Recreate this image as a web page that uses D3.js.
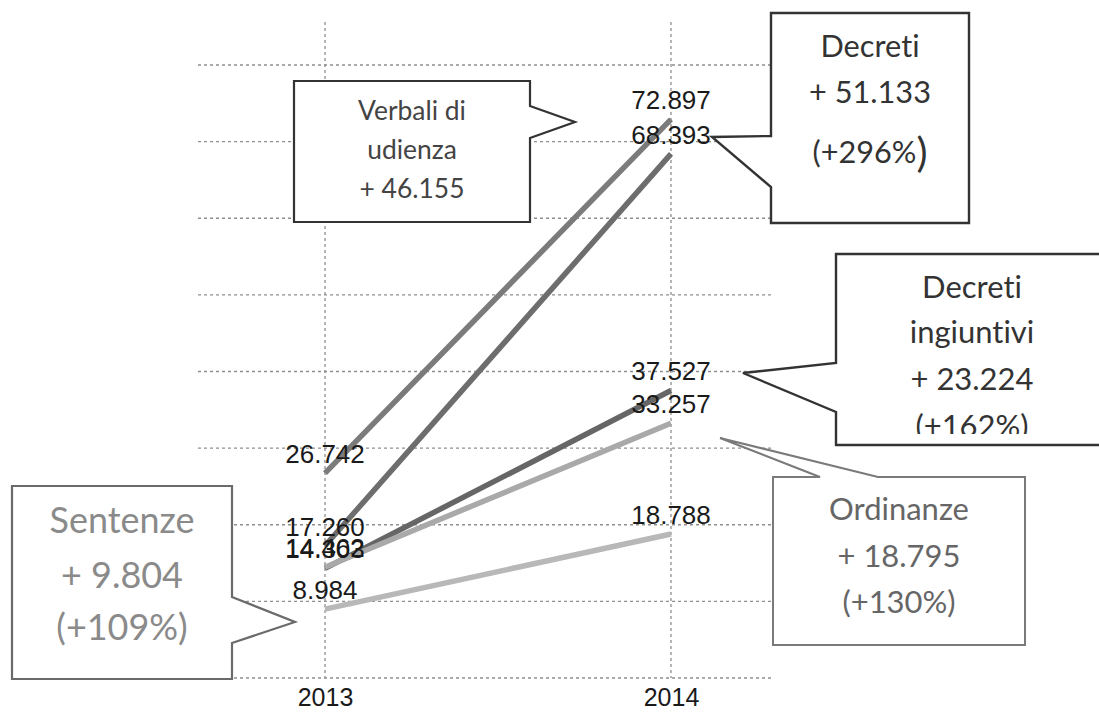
<!DOCTYPE html>
<html>
<head>
<meta charset="utf-8">
<script src="https://cdn.jsdelivr.net/npm/d3@7"></script>
<style>
  html, body { margin: 0; padding: 0; background: #fff; }
  svg { display: block; }
  text { font-variant-ligatures: none; font-feature-settings: "liga" 0, "clig" 0; }
</style>
</head>
<body>
<svg id="chart" width="1099" height="713"></svg>
<script>
// ---------------- DATA ----------------
const years = ["2013", "2014"];
const seriesNames = ["Verbali di udienza", "Decreti", "Decreti ingiuntivi", "Ordinanze", "Sentenze"];
const values2013 = [26742, 17260, 14303, 14462, 8984];
const values2014 = [72897, 68393, 37527, 33257, 18788];
const seriesColors = ["#7b7b7b", "#6d6d6d", "#666666", "#a9a9a9", "#b8b8b8"];
const yTicks = [0, 10000, 20000, 30000, 40000, 50000, 60000, 70000, 80000];

const calloutVerbali = ["Verbali di", "udienza", "+ 46.155"];
const calloutDecreti = ["Decreti", "+ 51.133", "(+296%"];
const calloutIngiuntivi = ["Decreti", "ingiuntivi", "+ 23.224", "(+162%)"];
const calloutOrdinanze = ["Ordinanze", "+ 18.795", "(+130%)"];
const calloutSentenze = ["Sentenze", "+ 9.804", "(+109%)"];

// ---------------- SETUP ----------------
const svg = d3.select("#chart");
svg.append("rect").attr("width", 1099).attr("height", 713).attr("fill", "#fff");

const it = d3.formatLocale({decimal: ",", thousands: ".", grouping: [3], currency: ["€", ""]});
const fmt = it.format(",d");

const x = d3.scalePoint().domain(years).range([325, 671]);
const y = d3.scaleLinear().domain([0, 80000]).range([678, 65]);
const gridLeft = 198, gridRight = 772, vTop = 22;

// horizontal gridlines (dotted)
const gGrid = svg.append("g");
gGrid.selectAll("line.h").data(yTicks).join("line")
  .attr("class", "h")
  .attr("x1", gridLeft).attr("x2", gridRight)
  .attr("y1", d => y(d)).attr("y2", d => y(d))
  .attr("stroke", "#8f8f8f").attr("stroke-width", 1.3)
  .attr("stroke-dasharray", "3,3");
// vertical gridlines at categories
gGrid.selectAll("line.v").data(years).join("line")
  .attr("class", "v")
  .attr("x1", d => x(d)).attr("x2", d => x(d))
  .attr("y1", vTop).attr("y2", y(0))
  .attr("stroke", "#8f8f8f").attr("stroke-width", 1.3)
  .attr("stroke-dasharray", "3,3");

// x axis labels (D3 axis, no line/ticks)
const xAxis = svg.append("g")
  .attr("transform", `translate(0,${y(0)})`)
  .call(d3.axisBottom(x).tickSize(0).tickPadding(10));
xAxis.select(".domain").remove();
xAxis.selectAll("text")
  .attr("font-family", "'Liberation Sans', Arial, sans-serif")
  .attr("font-size", 25).attr("fill", "#1a1a1a");

// ---------------- SERIES ----------------
const series = seriesNames.map((name, i) => ({
  name, color: seriesColors[i],
  pts: [{year: years[0], v: values2013[i]}, {year: years[1], v: values2014[i]}]
}));
const line = d3.line().x(d => x(d.year)).y(d => y(d.v));

svg.append("g").selectAll("path").data(series).join("path")
  .attr("d", d => line(d.pts))
  .attr("fill", "none")
  .attr("stroke", d => d.color)
  .attr("stroke-width", 5.5);

// data labels
const labels = series.flatMap(s => s.pts);
svg.append("g").selectAll("text").data(labels).join("text")
  .attr("x", d => x(d.year))
  .attr("y", d => y(d.v) - 10)
  .attr("text-anchor", "middle")
  .attr("font-family", "'Liberation Sans', Arial, sans-serif")
  .attr("font-size", 26)
  .attr("fill", "#1a1a1a")
  .text(d => fmt(d.v));

// ---------------- CALLOUTS ----------------
const calloutFont = "Lato, 'Open Sans', sans-serif";
function fitSize(str, target) {
  const t = svg.append("text").attr("font-family", calloutFont).attr("font-size", 100).text(str);
  const w = t.node().getComputedTextLength();
  t.remove();
  return 100 * target / w;
}

let clipCount = 0;
function callout(opts) {
  const g = svg.append("g");
  let clipId = null;
  if (opts.clip) {
    clipId = "clip" + (clipCount++);
    svg.append("clipPath").attr("id", clipId).append("rect")
      .attr("x", opts.clip[0]).attr("y", opts.clip[1]).attr("width", opts.clip[2]).attr("height", opts.clip[3]);
  }
  g.append("path")
    .attr("d", opts.path)
    .attr("fill", "#fff")
    .attr("stroke", "none");
  const size = fitSize(opts.fitStr, opts.fitW);
  const tg = g.append("g");
  if (clipId) tg.attr("clip-path", `url(#${clipId})`);
  opts.lines.forEach((ln, i) => {
    const t = tg.append("text")
      .attr("x", opts.cx).attr("y", opts.baselines[i])
      .attr("text-anchor", "middle")
      .attr("font-family", calloutFont)
      .attr("font-size", size)
      .attr("fill", opts.textColor);
    if (opts.bigParen && i === opts.lines.length - 1) {
      t.append("tspan").text(ln);
      t.append("tspan").attr("font-size", size * 1.35).attr("dy", 4).text(")");
    } else {
      t.text(ln);
    }
  });
  g.append("path")
    .attr("d", opts.path)
    .attr("fill", "none")
    .attr("stroke", opts.stroke)
    .attr("stroke-width", opts.sw)
    .attr("stroke-linejoin", "miter");
}

// Verbali di udienza: pointer on right side
callout({
  path: "M294,81 L530,81 L530,106 L575,122 L530,138 L530,222 L294,222 Z",
  cx: 412, baselines: [120, 159, 198], lines: calloutVerbali,
  fitStr: "+ 46.155", fitW: 105, textColor: "#444", stroke: "#333", sw: 2.2
});

// Decreti: pointer on left side
callout({
  path: "M771,13 L969,13 L969,223 L771,223 L771,187 L712,137 L771,136 Z",
  cx: 870, baselines: [57, 103, 163], lines: calloutDecreti,
  fitStr: "+ 51.133", fitW: 122, textColor: "#333", stroke: "#333", sw: 2.4,
  bigParen: true
});

// Decreti ingiuntivi: pointer on left side, box runs off the right edge
callout({
  path: "M836,254 L1112,254 L1112,445 L836,445 L836,412 L743,373 L836,363 Z",
  cx: 972, baselines: [298, 343, 390, 437], lines: calloutIngiuntivi,
  fitStr: "+ 23.224", fitW: 123, textColor: "#333", stroke: "#333", sw: 2.4,
  clip: [836, 254, 270, 180]
});

// Ordinanze: pointer from top edge
callout({
  path: "M773,477 L820,477 L720,438 L878,477 L1025,477 L1025,645 L773,645 Z",
  cx: 899, baselines: [520, 567, 613], lines: calloutOrdinanze,
  fitStr: "+ 18.795", fitW: 123, textColor: "#666", stroke: "#7a7a7a", sw: 2
});

// Sentenze: pointer on right side
callout({
  path: "M12,486 L232,486 L232,597 L295,622 L232,643 L232,679 L12,679 Z",
  cx: 122, baselines: [533, 588, 640], lines: calloutSentenze,
  fitStr: "+ 9.804", fitW: 122, textColor: "#8a8a8a", stroke: "#6a6a6a", sw: 2.2
});
</script>
</body>
</html>
